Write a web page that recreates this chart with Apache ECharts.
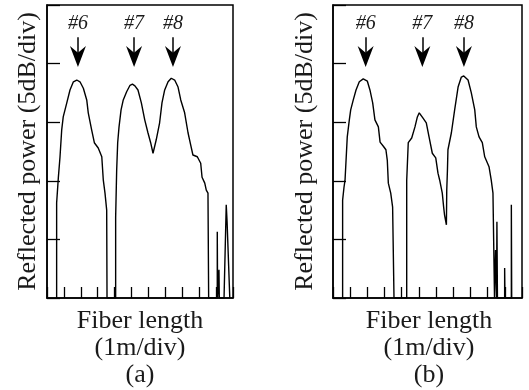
<!DOCTYPE html>
<html>
<head>
<meta charset="utf-8">
<script src="https://cdn.jsdelivr.net/npm/echarts@6/dist/echarts.min.js"></script>
<style>
  html, body { margin: 0; padding: 0; background: #fff; }
  #chart { width: 529px; height: 390px; }
</style>
</head>
<body>
<div id="chart"></div>
<script>
// OTDR trace, x = fiber length (m), y = reflected power (div, 5dB/div)
var traceA = [
  [0.57, 0], [0.57, 1.62], [0.67, 2.05], [0.77, 2.41], [0.87, 2.87], [0.96, 3.09],
  [1.17, 3.33], [1.36, 3.55], [1.56, 3.69], [1.76, 3.72], [1.95, 3.69], [2.15, 3.58],
  [2.35, 3.38], [2.44, 3.16], [2.64, 2.87], [2.80, 2.65], [3.03, 2.56], [3.24, 2.41],
  [3.33, 2.01], [3.43, 1.79], [3.53, 1.50], [3.55, 0],
  [4.06, 0], [4.06, 1.38], [4.12, 2.18], [4.18, 2.65], [4.26, 2.92], [4.38, 3.21],
  [4.51, 3.38], [4.71, 3.52], [4.91, 3.63], [5.05, 3.65], [5.20, 3.62], [5.38, 3.55],
  [5.58, 3.33], [5.78, 3.04], [5.97, 2.82], [6.13, 2.65], [6.27, 2.47], [6.46, 2.70],
  [6.66, 2.99], [6.80, 3.33], [6.96, 3.55], [7.16, 3.69], [7.35, 3.75], [7.55, 3.72],
  [7.75, 3.60], [7.91, 3.38], [8.14, 3.16], [8.34, 2.82], [8.50, 2.61], [8.63, 2.44],
  [8.89, 2.41], [9.09, 2.30], [9.17, 2.06], [9.33, 1.96], [9.42, 1.84], [9.52, 1.79],
  [9.56, 0],
  [10.07, 0], [10.07, 1.13], [10.09, 0], [10.17, 0], [10.17, 0.48], [10.19, 0],
  [10.47, 0], [10.60, 1.59], [10.65, 1.30], [10.70, 1.33], [10.81, 0]
]
var traceB = [
  [0.56, 0], [0.56, 1.67], [0.64, 1.89], [0.70, 2.01], [0.76, 2.35], [0.83, 2.75],
  [0.95, 3.04], [1.03, 3.21], [1.18, 3.38], [1.34, 3.55], [1.53, 3.69], [1.76, 3.74],
  [2.00, 3.70], [2.15, 3.55], [2.31, 3.33], [2.44, 3.04], [2.64, 2.92], [2.74, 2.66],
  [2.93, 2.59], [3.08, 2.53], [3.16, 2.35], [3.22, 1.96], [3.36, 1.79], [3.47, 1.55],
  [3.55, 0],
  [4.29, 0], [4.29, 2.01], [4.38, 2.65], [4.58, 2.73], [4.77, 2.92], [4.91, 3.09],
  [5.02, 3.16], [5.24, 3.07], [5.43, 2.99], [5.59, 2.75], [5.78, 2.47], [5.98, 2.39],
  [6.11, 2.13], [6.21, 2.01], [6.36, 1.79], [6.44, 1.55], [6.49, 1.42], [6.60, 1.25],
  [6.62, 1.84], [6.66, 2.18], [6.69, 2.53], [6.89, 2.82], [7.08, 3.21], [7.28, 3.60],
  [7.47, 3.77], [7.61, 3.79], [7.86, 3.72], [8.05, 3.50], [8.25, 3.21], [8.34, 2.92],
  [8.50, 2.75], [8.69, 2.65], [8.83, 2.41], [9.08, 2.24], [9.21, 2.01], [9.31, 1.79],
  [9.35, 0.99], [9.40, 0], [9.46, 0.82], [9.52, 0], [9.54, 1.30], [9.57, 0],
  [9.99, 0], [9.99, 0.51], [10.01, 0], [10.38, 0], [10.38, 1.59], [10.40, 0]
]
var peakNames = ['#6', '#7', '#8']
var peakPosA = [1.83, 5.15, 7.45]
var peakPosB = [1.90, 5.20, 7.62]
var arrowTop = 4.45
var arrowTip = 3.94

var yName = 'Reflected power (5dB/div)'
var xNameA = 'Fiber length\n(1m/div)\n(a)'
var xNameB = 'Fiber length\n(1m/div)\n(b)'

var serif = 'Liberation Serif'
var textColor = '#1a1a1a'

// down-pointing arrowhead, tip at the bottom of its box
var arrowHead = 'path://M0,22L-8,0L0,7L8,0Z'

function arrowMarks(pos) {
  return {
    markLine: {
      silent: true,
      symbol: ['none', 'none'],
      lineStyle: { color: '#000', width: 1.5, type: 'solid' },
      label: {
        show: true,
        position: 'start',
        distance: 3,
        formatter: function (p) { return p.name },
        color: textColor,
        fontFamily: serif,
        fontStyle: 'italic',
        fontSize: 20
      },
      data: pos.map(function (x, i) {
        return [{ name: peakNames[i], coord: [x, arrowTop] }, { coord: [x, arrowTip + 0.15] }]
      })
    },
    markPoint: {
      silent: true,
      symbol: arrowHead,
      symbolSize: [16, 21],
      symbolOffset: [0, '-50%'],
      itemStyle: { color: '#000' },
      label: { show: false },
      data: pos.map(function (x) { return { coord: [x, arrowTip] } })
    }
  }
}

function xAxisOf(i) {
  return {
    gridIndex: i, type: 'value', min: 0, max: 11, interval: 1,
    axisLine: { show: true, lineStyle: { color: '#000', width: 1.5 } },
    axisTick: { show: true, inside: true, length: 11, lineStyle: { color: '#000', width: 1.3 } },
    axisLabel: { show: false },
    splitLine: { show: false }
  }
}

function yAxisOf(i, gap) {
  return {
    gridIndex: i, type: 'value', min: 0, max: 5, interval: 1,
    name: yName, nameLocation: 'middle', nameGap: gap,
    nameTextStyle: { fontFamily: serif, fontSize: 26, color: textColor },
    axisLine: { show: true, lineStyle: { color: '#000', width: 1.5 } },
    axisTick: { show: true, inside: true, length: 13, lineStyle: { color: '#000', width: 1.3 } },
    axisLabel: { show: false },
    splitLine: { show: false }
  }
}

var myChart = echarts.init(document.getElementById('chart'))
var option = {
  animation: false,
  backgroundColor: '#fff',
  grid: [
    { left: 47, top: 5, width: 186, height: 293, show: true, borderColor: '#000', borderWidth: 1.5 },
    { left: 333, top: 5, width: 189, height: 293, show: true, borderColor: '#000', borderWidth: 1.5 }
  ],
  xAxis: [xAxisOf(0), xAxisOf(1)],
  yAxis: [yAxisOf(0, 6), yAxisOf(1, 15)],
  graphic: [
    {
      type: 'text', x: 140, y: 308,
      style: { text: xNameA, align: 'center', verticalAlign: 'top', fontFamily: serif, fontSize: 26, lineHeight: 27, fill: textColor }
    },
    {
      type: 'text', x: 429, y: 308,
      style: { text: xNameB, align: 'center', verticalAlign: 'top', fontFamily: serif, fontSize: 26, lineHeight: 27, fill: textColor }
    }
  ],
  series: [
    Object.assign({
      type: 'line', xAxisIndex: 0, yAxisIndex: 0, data: traceA,
      symbol: 'none', lineStyle: { color: '#000', width: 1.4 }
    }, arrowMarks(peakPosA)),
    Object.assign({
      type: 'line', xAxisIndex: 1, yAxisIndex: 1, data: traceB,
      symbol: 'none', lineStyle: { color: '#000', width: 1.4 }
    }, arrowMarks(peakPosB))
  ]
}
myChart.setOption(option)
</script>
</body>
</html>
